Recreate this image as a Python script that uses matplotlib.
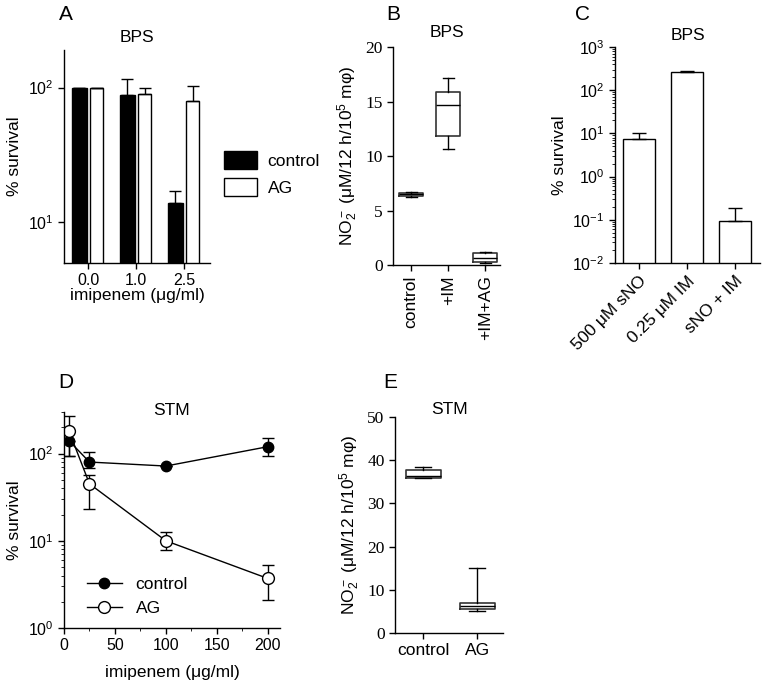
import numpy as np
import matplotlib
matplotlib.use("Agg")
import matplotlib.pyplot as plt
from matplotlib.lines import Line2D
from matplotlib.ticker import LogLocator, NullLocator, MultipleLocator, NullFormatter

plt.rcParams['font.family'] = ['Liberation Sans', 'DejaVu Sans']
plt.rcParams['mathtext.fontset'] = 'custom'
plt.rcParams['mathtext.rm'] = 'Liberation Sans'
plt.rcParams['mathtext.it'] = 'Liberation Sans:italic'
plt.rcParams['axes.linewidth'] = 1.0
plt.rcParams['xtick.direction'] = 'out'
plt.rcParams['ytick.direction'] = 'out'

# ---- data ----
# panel A
a_groups = ["0.0", "1.0", "2.5"]
a_control = [100, 88, 14]
a_control_err = [0, 27, 3]
a_ag = [100, 90, 80]
a_ag_err = [0, 10, 22]

# panel B
b_labels = ["control", "+IM", "+IM+AG"]
b_med = [6.5, 14.7, 0.6]
b_q1 = [6.3, 11.8, 0.3]
b_q3 = [6.6, 15.9, 1.1]
b_lo = [6.2, 10.6, 0.2]
b_hi = [6.7, 17.2, 1.2]

# panel C
c_labels = ["500 \u03bcM sNO", "0.25 \u03bcM IM", "sNO + IM"]
c_vals = [7.5, 270, 0.095]
c_err = [2.5, 15, 0.095]

# panel D
d_x = [5, 25, 100, 200]
d_control = [140, 80, 72, 120]
d_control_lo = [45, 12, 0, 25]
d_control_hi = [0, 25, 0, 30]
d_ag = [180, 45, 10, 3.7]
d_ag_lo = [85, 22, 2.2, 1.6]
d_ag_hi = [90, 12, 2.5, 1.6]

# panel E
e_labels = ["control", "AG"]
e_med = [36.4, 6.2]
e_q1 = [35.8, 5.5]
e_q3 = [37.7, 7.0]
e_lo = [35.8, 5.2]
e_hi = [38.5, 15.0]

W, H = 763, 687
fig = plt.figure(figsize=(W / 100, H / 100), dpi=100)


def add_ax(l, t, r, b):
    ax = fig.add_axes([l / W, 1 - b / H, (r - l) / W, (b - t) / H])
    ax.spines['top'].set_visible(False)
    ax.spines['right'].set_visible(False)
    ax.tick_params(labelsize=11.5, width=1, length=4)
    return ax


def boxes(ax, med, q1, q3, lo, hi):
    stats = []
    for i in range(len(med)):
        stats.append(dict(med=med[i], q1=q1[i], q3=q3[i], whislo=lo[i], whishi=hi[i], fliers=[]))
    ax.bxp(stats, positions=range(len(med)), widths=0.65, capwidths=0.3,
           showfliers=False,
           boxprops=dict(color='#333333', lw=1.2),
           medianprops=dict(color='black', lw=1),
           whiskerprops=dict(color='black', lw=1),
           capprops=dict(color='black', lw=1))


serif = ['Liberation Serif', 'DejaVu Serif']
no2_label = "NO$_2^-$ (\u03bcM/12 h/10$^5$ m\u03c6)"

# ---- A ----
ax = add_ax(64, 50, 210, 263)
x = np.arange(len(a_groups))
ax.bar(x - 0.18, a_control, 0.3, color='black', edgecolor='black',
       yerr=[np.zeros(3), a_control_err], capsize=4, error_kw=dict(lw=1), label='control')
ax.bar(x + 0.18, a_ag, 0.27, color='white', edgecolor='black',
       yerr=[np.zeros(3), a_ag_err], capsize=4, error_kw=dict(lw=1), label='AG')
ax.set_yscale('log')
ax.set_ylim(5, 190)
ax.yaxis.set_minor_locator(NullLocator())
ax.set_xlim(-0.5, 2.54)
ax.set_xticks(x)
ax.set_xticklabels(a_groups)
ax.set_ylabel("% survival", fontsize=12.5)
ax.set_xlabel("imipenem (\u03bcg/ml)", fontsize=12.5, labelpad=0)
ax.set_title("BPS", fontsize=12.5, pad=6)
ax.legend(loc='center left', bbox_to_anchor=(0.99, 0.42), frameon=False, fontsize=12.5,
          handlelength=1.9, handleheight=1.2, handletextpad=0.6)

# ---- B ----
ax = add_ax(393, 47, 500, 265)
boxes(ax, b_med, b_q1, b_q3, b_lo, b_hi)
ax.set_ylim(0, 20)
ax.set_yticks([0, 5, 10, 15, 20])
ax.set_xlim(-0.49, 2.4)
ax.set_xticks(range(3))
ax.set_xticklabels(b_labels, rotation=90, fontsize=12.5)
for t in ax.get_yticklabels():
    t.set_family(serif)
    t.set_fontsize(12.5)
ax.set_ylabel(no2_label, fontsize=12.5)
ax.set_title("BPS", fontsize=12.5, pad=7)

# ---- C ----
ax = add_ax(615, 47, 760, 263)
x = np.arange(len(c_labels))
ax.bar(x, c_vals, 0.67, color='white', edgecolor='black',
       yerr=[np.zeros(3), c_err], capsize=5, error_kw=dict(lw=1))
ax.set_yscale('log')
ax.set_ylim(0.01, 1000)
ax.yaxis.set_major_locator(LogLocator(base=10, numticks=10))
ax.yaxis.set_minor_locator(LogLocator(base=10, subs=np.arange(2, 10), numticks=20))
ax.yaxis.set_minor_formatter(NullFormatter())
ax.tick_params(axis='y', which='minor', length=2)
ax.set_xlim(-0.5, 2.52)
ax.set_xticks(x)
ax.set_xticklabels(c_labels, rotation=45, ha='right', rotation_mode='anchor', fontsize=12.5)
ax.set_ylabel("% survival", fontsize=12.5)
ax.set_title("BPS", fontsize=12.5, pad=5)

# ---- D ----
ax = add_ax(64, 412, 280, 628)
ax.errorbar(d_x, d_control, yerr=[d_control_lo, d_control_hi], color='black', marker='o',
            ms=7.5, mfc='black', lw=1, capsize=4)
ax.errorbar(d_x, d_ag, yerr=[d_ag_lo, d_ag_hi], color='black', marker='o',
            ms=8.5, mfc='white', lw=1, capsize=4)
ax.set_yscale('log')
ax.set_ylim(1, 300)
ax.yaxis.set_minor_locator(LogLocator(base=10, subs=np.arange(2, 10), numticks=20))
ax.yaxis.set_minor_formatter(NullFormatter())
ax.tick_params(axis='both', which='minor', length=2)
ax.set_xlim(0, 212)
ax.xaxis.set_major_locator(MultipleLocator(50))
ax.xaxis.set_minor_locator(MultipleLocator(25))
ax.set_ylabel("% survival", fontsize=12.5)
ax.set_xlabel("imipenem (\u03bcg/ml)", fontsize=12.5, labelpad=8)
ax.text(0.5, 0.97, "STM", transform=ax.transAxes, ha='center', va='bottom', fontsize=12.5)
handles = [Line2D([], [], color='black', marker='o', ms=7.5, mfc='black', lw=1),
           Line2D([], [], color='black', marker='o', ms=8.5, mfc='white', lw=1)]
ax.legend(handles, ['control', 'AG'], loc='lower left', frameon=False, fontsize=12.5,
          handlelength=2, borderaxespad=0.3, bbox_to_anchor=(0.05, 0.0))

# ---- E ----
ax = add_ax(395, 417, 503, 633)
boxes(ax, e_med, e_q1, e_q3, e_lo, e_hi)
ax.set_ylim(0, 50)
ax.set_yticks([0, 10, 20, 30, 40, 50])
ax.set_xlim(-0.52, 1.48)
ax.set_xticks(range(2))
ax.set_xticklabels(e_labels, fontsize=12.5)
for t in ax.get_yticklabels():
    t.set_family(serif)
    t.set_fontsize(12.5)
ax.set_ylabel(no2_label, fontsize=12.5)
ax.set_title("STM", fontsize=12.5, pad=2)

# panel letters
for lab, px, py in [("A", 66, 14), ("B", 393, 14), ("C", 583, 14), ("D", 66, 382), ("E", 390, 382)]:
    fig.text(px / W, 1 - py / H, lab, fontsize=15, ha='center', va='center')

fig.savefig("out.png", dpi=100)
